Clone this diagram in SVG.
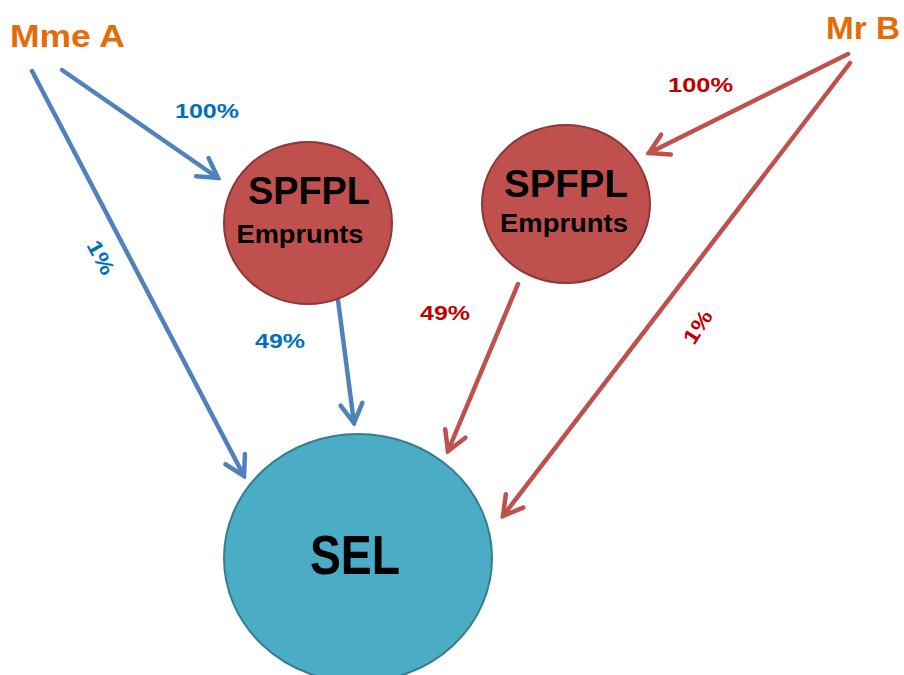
<svg xmlns="http://www.w3.org/2000/svg" width="904" height="675" viewBox="0 0 904 675">
<style>
.lbl{font-family:"Liberation Sans",Arial,sans-serif;font-weight:bold}
.person{fill:#E36C09;font-size:31px}
.pb{fill:#0070C0;font-size:21px}
.pr{fill:#C00000;font-size:21px}
.blue{stroke:#4F81BD;stroke-width:4.5;fill:none;stroke-linecap:round}
.red{stroke:#C0504D;stroke-width:4.5;fill:none;stroke-linecap:round}
.spf{fill:#C0504D;stroke:#8C3836;stroke-width:2}
.sel{fill:#4BACC6;stroke:#357D91;stroke-width:2}
.ntx{fill:#000;text-anchor:middle}
</style>
<defs>
<marker id="ab" markerUnits="userSpaceOnUse" viewBox="0 0 28 28" markerWidth="28" markerHeight="28" refX="25" refY="14" orient="auto">
<path d="M6,3 L25,14 L6,25" fill="none" stroke="#4F81BD" stroke-width="4.5" stroke-linecap="round"/>
</marker>
<marker id="ar" markerUnits="userSpaceOnUse" viewBox="0 0 28 28" markerWidth="28" markerHeight="28" refX="25" refY="14" orient="auto">
<path d="M6,3 L25,14 L6,25" fill="none" stroke="#C0504D" stroke-width="4.5" stroke-linecap="round"/>
</marker>
</defs>
<rect width="904" height="675" fill="#fff"/>
<g id="connectors">
<line class="blue" x1="32" y1="71" x2="244" y2="476" marker-end="url(#ab)"/>
<line class="blue" x1="62" y1="70" x2="218" y2="178" marker-end="url(#ab)"/>
<line class="blue" x1="338" y1="300" x2="354" y2="423" marker-end="url(#ab)"/>
<line class="red" x1="518" y1="284" x2="448" y2="451" marker-end="url(#ar)"/>
<line class="red" x1="848" y1="54" x2="649" y2="153" marker-end="url(#ar)"/>
<line class="red" x1="850" y1="63" x2="503" y2="516" marker-end="url(#ar)"/>
</g>
<g id="labels" class="lbl">
<text class="pb" x="175" y="118" textLength="64" lengthAdjust="spacingAndGlyphs">100%</text>
<text class="pr" x="668" y="92" textLength="65" lengthAdjust="spacingAndGlyphs">100%</text>
<text class="pb" x="255" y="348" textLength="50" lengthAdjust="spacingAndGlyphs">49%</text>
<text class="pr" x="420" y="320" textLength="50" lengthAdjust="spacingAndGlyphs">49%</text>
<text class="pb" transform="translate(86,245) rotate(62)" font-size="23" textLength="36" lengthAdjust="spacingAndGlyphs">1%</text>
<text class="pr" transform="translate(694,346) rotate(-57)" font-size="23" textLength="36" lengthAdjust="spacingAndGlyphs">1%</text>
</g>
<g id="mme-a" class="lbl"><text class="person" x="10" y="47" textLength="115" lengthAdjust="spacingAndGlyphs">Mme A</text></g>
<g id="mr-b" class="lbl"><text class="person" x="826" y="39" textLength="74" lengthAdjust="spacingAndGlyphs">Mr B</text></g>
<g id="spfpl-left" class="lbl">
<ellipse class="spf" cx="308" cy="223" rx="84" ry="81"/>
<text class="ntx" x="309" y="204" font-size="38" textLength="122" lengthAdjust="spacingAndGlyphs">SPFPL</text>
<text class="ntx" x="300" y="243" font-size="26" textLength="127" lengthAdjust="spacingAndGlyphs">Emprunts</text>
</g>
<g id="spfpl-right" class="lbl">
<ellipse class="spf" cx="566" cy="204" rx="84" ry="79"/>
<text class="ntx" x="566" y="197" font-size="38" textLength="124" lengthAdjust="spacingAndGlyphs">SPFPL</text>
<text class="ntx" x="564" y="232" font-size="26" textLength="128" lengthAdjust="spacingAndGlyphs">Emprunts</text>
</g>
<g id="sel" class="lbl">
<ellipse class="sel" cx="358" cy="558" rx="134" ry="124"/>
<text class="ntx" x="355" y="574" font-size="55" textLength="90" lengthAdjust="spacingAndGlyphs">SEL</text>
</g>
</svg>
